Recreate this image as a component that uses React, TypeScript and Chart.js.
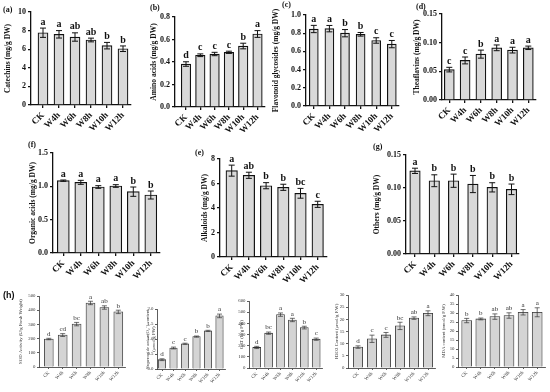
import React, { useEffect, useRef } from "react";
import { Chart, registerables } from "chart.js";
Chart.register(...registerables);

const categories = ["CK", "W4h", "W6h", "W8h", "W10h", "W12h"];

const catechins = [7.77, 7.6, 7.31, 6.99, 6.38, 6.05];
const catechinsErr = [0.5, 0.4, 0.45, 0.2, 0.35, 0.3];
const catechinsLetters = ["a", "a", "ab", "ab", "b", "b"];
const catechinsTicks = [0, 2, 4, 6, 8, 10];

const aminoAcids = [0.382, 0.46, 0.471, 0.486, 0.542, 0.649];
const aminoAcidsErr = [0.02, 0.012, 0.015, 0.01, 0.025, 0.03];
const aminoAcidsLetters = ["d", "c", "c", "c", "b", "a"];
const aminoAcidsTicks = [0, 0.2, 0.4, 0.6, 0.8];

const flavonoids = [0.846, 0.85, 0.8, 0.788, 0.72, 0.68];
const flavonoidsErr = [0.04, 0.035, 0.04, 0.02, 0.03, 0.04];
const flavonoidsLetters = ["a", "a", "b", "b", "c", "c"];
const flavonoidsTicks = [0, 0.2, 0.4, 0.6, 0.8, 1.0];

const theaflavins = [0.053, 0.069, 0.08, 0.091, 0.087, 0.091];
const theaflavinsErr = [0.004, 0.006, 0.007, 0.005, 0.005, 0.003];
const theaflavinsLetters = ["c", "c", "b", "a", "a", "a"];
const theaflavinsTicks = [0, 0.05, 0.1, 0.15];

const organicAcids = [1.085, 1.06, 0.99, 1.005, 0.92, 0.87];
const organicAcidsErr = [0.01, 0.03, 0.02, 0.02, 0.07, 0.06];
const organicAcidsLetters = ["a", "a", "a", "a", "b", "b"];
const organicAcidsTicks = [0, 0.5, 1.0, 1.5];

const alkaloids = [7.05, 6.67, 5.82, 5.69, 5.2, 4.3];
const alkaloidsErr = [0.45, 0.25, 0.25, 0.25, 0.4, 0.25];
const alkaloidsLetters = ["a", "ab", "b", "b", "bc", "c"];
const alkaloidsTicks = [0, 2, 4, 6, 8];

const others = [0.126, 0.111, 0.111, 0.106, 0.101, 0.098];
const othersErr = [0.004, 0.009, 0.01, 0.013, 0.007, 0.008];
const othersLetters = ["a", "b", "b", "b", "b", "b"];
const othersTicks = [0, 0.05, 0.1, 0.15];

const sod = [197, 225, 302, 451, 419, 388];
const sodErr = [5, 10, 12, 12, 12, 12];
const sodLetters = ["d", "cd", "bc", "a", "ab", "b"];
const sodTicks = [0, 100, 200, 300, 400, 500];

const superoxide = [0.31, 0.7, 0.84, 1.08, 1.27, 1.77];
const superoxideErr = [0.03, 0.03, 0.02, 0.02, 0.02, 0.06];
const superoxideLetters = ["d", "c", "c", "b", "b", "a"];
const superoxideTicks = [0, 0.5, 1.0, 1.5, 2.0];

const cat = [184, 312, 478, 430, 362, 258];
const catErr = [10, 10, 15, 15, 12, 10];
const catLetters = ["d", "bc", "a", "a", "b", "c"];
const catTicks = [0, 100, 200, 300, 400, 500, 600];

const h2o2 = [8.6, 12.0, 13.6, 17.3, 20.5, 22.5];
const h2o2Err = [0.5, 1.5, 1.0, 1.5, 0.5, 1.0];
const h2o2Letters = ["d", "c", "c", "bc", "ab", "a"];
const h2o2Ticks = [0, 5, 10, 15, 20, 25, 30];

const mda = [25.8, 26.7, 28.0, 28.6, 30.4, 30.4];
const mdaErr = [1.2, 0.5, 1.5, 1.5, 1.5, 2.5];
const mdaLetters = ["b", "b", "ab", "ab", "a", "a"];
const mdaTicks = [0, 5, 10, 15, 20, 25, 30, 35, 40];

type Style = {
  serif: string;
  weight: string;
  yTickSize: number;
  xTickSize: number;
  titleSize: number;
  letterSize: number;
  axisW: number;
  tickLen: number;
  barBorder: number;
  fill: string;
  color: string;
  errW: number;
  cap: number;
  xh: number;
  yPad: number;
  xPad: number;
};

const MAIN: Style = {
  serif: "'Liberation Serif', 'Times New Roman', serif",
  weight: "bold",
  yTickSize: 8,
  xTickSize: 9,
  titleSize: 7.5,
  letterSize: 10,
  axisW: 1.3,
  tickLen: 3,
  barBorder: 1.2,
  fill: "#d9d9d9",
  color: "#111111",
  errW: 1,
  cap: 3,
  xh: 40,
  yPad: 2,
  xPad: 2,
};

const SMALL: Style = {
  serif: "'Liberation Serif', 'Times New Roman', serif",
  weight: "normal",
  yTickSize: 4.8,
  xTickSize: 4.8,
  titleSize: 4.8,
  letterSize: 7,
  axisW: 0.8,
  tickLen: 2,
  barBorder: 0.8,
  fill: "#d4d4d4",
  color: "#333333",
  errW: 0.7,
  cap: 2.5,
  xh: 25,
  yPad: 1.5,
  xPad: 1,
};

type Spec = {
  values: number[];
  errors: number[];
  letters: string[];
  ticks: number[];
  decimals: number;
  title: string | string[];
  axisX: number;
  zeroY: number;
  topY: number;
  firstCenter: number;
  step: number;
  barW: number;
  xEnd: number;
  titleX: number;
  st: Style;
};

function Panel({ s }: { s: Spec }) {
  const ref = useRef<HTMLCanvasElement | null>(null);
  const st = s.st;
  const canvasLeft = s.titleX - 8;
  const yw = s.axisX - canvasLeft;
  const padTop = 22;
  const canvasTop = s.topY - padTop;
  const H = Math.round(s.zeroY - canvasTop + st.xh);
  const padRight = 10;
  const W = Math.round(s.xEnd - canvasLeft + padRight);
  const xmin = (s.axisX - s.firstCenter) / s.step;
  const xmax = (s.xEnd - s.firstCenter) / s.step;
  const lh = st.titleSize * 1.2;

  useEffect(() => {
    if (!ref.current) return;
    const errPlugin = {
      id: "errbars",
      afterDatasetsDraw(chart: any) {
        const ctx = chart.ctx;
        const xs = chart.scales.x;
        const ys = chart.scales.y;
        ctx.save();
        ctx.strokeStyle = st.color;
        ctx.lineWidth = st.errW;
        ctx.fillStyle = st.color;
        ctx.font = `${st.weight} ${st.letterSize}px ${st.serif}`;
        ctx.textAlign = "center";
        ctx.textBaseline = "bottom";
        s.values.forEach((v, i) => {
          const x = xs.getPixelForValue(i);
          const yT = ys.getPixelForValue(v + s.errors[i]);
          const yB = ys.getPixelForValue(v - s.errors[i]);
          ctx.beginPath();
          ctx.moveTo(x, yT);
          ctx.lineTo(x, yB);
          ctx.moveTo(x - st.cap, yT);
          ctx.lineTo(x + st.cap, yT);
          ctx.moveTo(x - st.cap, yB);
          ctx.lineTo(x + st.cap, yB);
          ctx.stroke();
          ctx.fillText(s.letters[i], x, yT - 1);
        });
        ctx.restore();
      },
    };
    const chart = new Chart(ref.current, {
      type: "bar",
      data: {
        datasets: [
          {
            data: s.values.map((v, i) => ({ x: i, y: v })),
            backgroundColor: st.fill,
            borderColor: st.color,
            borderWidth: st.barBorder,
            barThickness: s.barW,
          } as any,
        ],
      },
      options: {
        responsive: false,
        animation: false,
        devicePixelRatio: 1,
        layout: { padding: { top: padTop, right: padRight, left: 0, bottom: 0 } },
        plugins: { legend: { display: false }, tooltip: { enabled: false } },
        scales: {
          x: {
            type: "linear",
            min: xmin,
            max: xmax,
            offset: false,
            grid: {
              display: true,
              offset: false,
              drawOnChartArea: false,
              drawTicks: true,
              tickLength: st.tickLen,
              color: st.color,
              lineWidth: st.axisW,
            },
            border: { display: true, color: st.color, width: st.axisW },
            ticks: {
              autoSkip: false,
              maxRotation: 45,
              minRotation: 45,
              padding: st.xPad,
              color: st.color,
              font: { family: st.serif, size: st.xTickSize, weight: st.weight as any },
              callback: (v: any) => categories[Math.round(Number(v))] ?? "",
            },
            afterBuildTicks: (scale: any) => {
              scale.ticks = categories.map((_, i) => ({ value: i }));
            },
            afterFit: (scale: any) => {
              scale.height = st.xh;
            },
          },
          y: {
            min: 0,
            max: s.ticks[s.ticks.length - 1],
            grid: {
              display: true,
              drawOnChartArea: false,
              drawTicks: true,
              tickLength: st.tickLen,
              color: st.color,
              lineWidth: st.axisW,
            },
            border: { display: true, color: st.color, width: st.axisW },
            ticks: {
              padding: st.yPad,
              color: st.color,
              font: { family: st.serif, size: st.yTickSize, weight: st.weight as any },
              callback: (v: any) => Number(v).toFixed(s.decimals),
            },
            afterBuildTicks: (scale: any) => {
              scale.ticks = s.ticks.map((t) => ({ value: t }));
            },
            title: {
              display: true,
              text: s.title as any,
              color: st.color,
              font: { family: st.serif, size: st.titleSize, weight: st.weight as any, lineHeight: 1.2 },
              padding: { top: Math.max(0, 8 - lh / 2), bottom: 0 },
            },
            afterFit: (scale: any) => {
              scale.width = yw;
            },
          },
        },
      },
      plugins: [errPlugin as any],
    });
    return () => chart.destroy();
  }, []);

  return (
    <canvas
      ref={ref}
      width={W}
      height={H}
      style={{ position: "absolute", left: canvasLeft, top: canvasTop, width: W, height: H }}
    />
  );
}

const specs: Spec[] = [
  { values: catechins, errors: catechinsErr, letters: catechinsLetters, ticks: catechinsTicks, decimals: 0,
    title: "Catechins (mg/g DW)", axisX: 31, zeroY: 105, topY: 12, firstCenter: 43, step: 16, barW: 10, xEnd: 131, titleX: 8, st: MAIN },
  { values: aminoAcids, errors: aminoAcidsErr, letters: aminoAcidsLetters, ticks: aminoAcidsTicks, decimals: 1,
    title: "Amino acids (mg/g DW)", axisX: 175, zeroY: 107, topY: 17, firstCenter: 186, step: 14.3, barW: 9.5, xEnd: 265, titleX: 154, st: MAIN },
  { values: flavonoids, errors: flavonoidsErr, letters: flavonoidsLetters, ticks: flavonoidsTicks, decimals: 1,
    title: "Flavonoid glycosides (mg/g DW)", axisX: 306, zeroY: 106, topY: 15, firstCenter: 313.8, step: 15.6, barW: 9, xEnd: 399, titleX: 276, st: MAIN },
  { values: theaflavins, errors: theaflavinsErr, letters: theaflavinsLetters, ticks: theaflavinsTicks, decimals: 2,
    title: "Theaflavins (mg/g DW)", axisX: 442, zeroY: 100, topY: 14, firstCenter: 449.3, step: 15.8, barW: 10, xEnd: 536, titleX: 417, st: MAIN },
  { values: organicAcids, errors: organicAcidsErr, letters: organicAcidsLetters, ticks: organicAcidsTicks, decimals: 1,
    title: "Organic acids (mg/g DW)", axisX: 53, zeroY: 253, topY: 153, firstCenter: 63.3, step: 17.5, barW: 12, xEnd: 160, titleX: 33, st: MAIN },
  { values: alkaloids, errors: alkaloidsErr, letters: alkaloidsLetters, ticks: alkaloidsTicks, decimals: 0,
    title: "Alkaloids (mg/g DW)", axisX: 220, zeroY: 257, topY: 159, firstCenter: 231.7, step: 17.2, barW: 11.5, xEnd: 327, titleX: 205, st: MAIN },
  { values: others, errors: othersErr, letters: othersLetters, ticks: othersTicks, decimals: 2,
    title: "Others (mg/g DW)", axisX: 406, zeroY: 254, topY: 155, firstCenter: 415, step: 19.3, barW: 10.5, xEnd: 519, titleX: 377, st: MAIN },
  { values: sod, errors: sodErr, letters: sodLetters, ticks: sodTicks, decimals: 0,
    title: "SOD Activity (U/g Fresh Weight)", axisX: 39, zeroY: 367, topY: 296, firstCenter: 48.8, step: 13.9, barW: 9, xEnd: 125, titleX: 21, st: SMALL },
  { values: superoxide, errors: superoxideErr, letters: superoxideLetters, ticks: superoxideTicks, decimals: 1,
    title: ["Superoxide anion(O\u2082\u207B) content", "(\u03BCmol/g FW)"], axisX: 157, zeroY: 369, topY: 309, firstCenter: 162, step: 11.5, barW: 7.5, xEnd: 225, titleX: 148, st: SMALL },
  { values: cat, errors: catErr, letters: catLetters, ticks: catTicks, decimals: 0,
    title: "CAT (U/g FW)", axisX: 249, zeroY: 368, topY: 301, firstCenter: 256.7, step: 11.9, barW: 8, xEnd: 322, titleX: 242, st: SMALL },
  { values: h2o2, errors: h2o2Err, letters: h2o2Letters, ticks: h2o2Ticks, decimals: 0,
    title: "H2O2 Content (\u03BCmol/g F.W)", axisX: 348, zeroY: 368, topY: 295, firstCenter: 358, step: 14, barW: 9.3, xEnd: 435, titleX: 337, st: SMALL },
  { values: mda, errors: mdaErr, letters: mdaLetters, ticks: mdaTicks, decimals: 0,
    title: "MDA content (nmol/g F.W)", axisX: 458, zeroY: 367, topY: 295, firstCenter: 466.7, step: 14.1, barW: 10, xEnd: 545, titleX: 444, st: SMALL },
];

const panelLabels: { text: string; x: number; y: number; sans?: boolean }[] = [
  { text: "(a)", x: 3, y: 6 },
  { text: "(b)", x: 150, y: 4 },
  { text: "(c)", x: 282, y: 1 },
  { text: "(d)", x: 416, y: 3 },
  { text: "(f)", x: 28, y: 141 },
  { text: "(e)", x: 195, y: 149 },
  { text: "(g)", x: 373, y: 143 },
  { text: "(h)", x: 3, y: 291, sans: true },
];

export default function App() {
  return (
    <div style={{ position: "fixed", left: 0, top: 0, width: 550, height: 392, background: "#fff", overflow: "hidden" }}>
      {specs.map((s, i) => (
        <Panel key={i} s={s} />
      ))}
      {panelLabels.map((l, i) => (
        <div
          key={"l" + i}
          style={{
            position: "absolute",
            left: l.x,
            top: l.y,
            lineHeight: 1,
            fontWeight: "bold",
            fontSize: l.sans ? 9 : 8,
            fontFamily: l.sans ? "'Liberation Sans', Arial, sans-serif" : "'Liberation Serif', 'Times New Roman', serif",
            color: "#111",
          }}
        >
          {l.text}
        </div>
      ))}
    </div>
  );
}
